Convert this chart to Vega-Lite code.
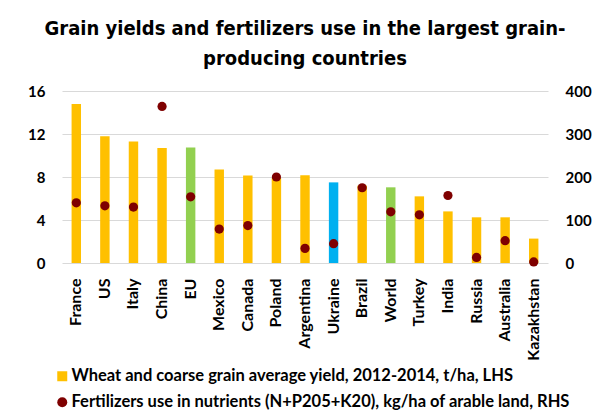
{
  "$schema": "https://vega.github.io/schema/vega-lite/v6.json",
  "width": 486,
  "height": 172,
  "autosize": {"type": "none"},
  "padding": {"left": 62, "top": 91, "right": 52, "bottom": 148},
  "background": "white",
  "title": {
    "text": ["Grain yields and fertilizers use in the largest grain-", "producing countries"],
    "font": "DejaVu Sans Condensed",
    "fontSize": 20,
    "fontWeight": "bold",
    "color": "#000000",
    "lineHeight": 30,
    "anchor": "middle",
    "offset": 15
  },
  "data": {
    "values": [
      {"country": "France", "yield": 14.8, "fert": 140, "barColor": "#FFC000", "series": "Fertilizers use in nutrients (N+P205+K20), kg/ha of arable land, RHS"},
      {"country": "US", "yield": 11.8, "fert": 133, "barColor": "#FFC000", "series": "Fertilizers use in nutrients (N+P205+K20), kg/ha of arable land, RHS"},
      {"country": "Italy", "yield": 11.3, "fert": 130, "barColor": "#FFC000", "series": "Fertilizers use in nutrients (N+P205+K20), kg/ha of arable land, RHS"},
      {"country": "China", "yield": 10.7, "fert": 364, "barColor": "#FFC000", "series": "Fertilizers use in nutrients (N+P205+K20), kg/ha of arable land, RHS"},
      {"country": "EU", "yield": 10.75, "fert": 154, "barColor": "#92D050", "series": "Fertilizers use in nutrients (N+P205+K20), kg/ha of arable land, RHS"},
      {"country": "Mexico", "yield": 8.7, "fert": 79, "barColor": "#FFC000", "series": "Fertilizers use in nutrients (N+P205+K20), kg/ha of arable land, RHS"},
      {"country": "Canada", "yield": 8.15, "fert": 87, "barColor": "#FFC000", "series": "Fertilizers use in nutrients (N+P205+K20), kg/ha of arable land, RHS"},
      {"country": "Poland", "yield": 7.9, "fert": 200, "barColor": "#FFC000", "series": "Fertilizers use in nutrients (N+P205+K20), kg/ha of arable land, RHS"},
      {"country": "Argentina", "yield": 8.17, "fert": 34, "barColor": "#FFC000", "series": "Fertilizers use in nutrients (N+P205+K20), kg/ha of arable land, RHS"},
      {"country": "Ukraine", "yield": 7.5, "fert": 45, "barColor": "#00B0F0", "series": "Fertilizers use in nutrients (N+P205+K20), kg/ha of arable land, RHS"},
      {"country": "Brazil", "yield": 7.2, "fert": 175, "barColor": "#FFC000", "series": "Fertilizers use in nutrients (N+P205+K20), kg/ha of arable land, RHS"},
      {"country": "World", "yield": 7.04, "fert": 119, "barColor": "#92D050", "series": "Fertilizers use in nutrients (N+P205+K20), kg/ha of arable land, RHS"},
      {"country": "Turkey", "yield": 6.2, "fert": 112, "barColor": "#FFC000", "series": "Fertilizers use in nutrients (N+P205+K20), kg/ha of arable land, RHS"},
      {"country": "India", "yield": 4.8, "fert": 157, "barColor": "#FFC000", "series": "Fertilizers use in nutrients (N+P205+K20), kg/ha of arable land, RHS"},
      {"country": "Russia", "yield": 4.25, "fert": 13, "barColor": "#FFC000", "series": "Fertilizers use in nutrients (N+P205+K20), kg/ha of arable land, RHS"},
      {"country": "Australia", "yield": 4.25, "fert": 52, "barColor": "#FFC000", "series": "Fertilizers use in nutrients (N+P205+K20), kg/ha of arable land, RHS"},
      {"country": "Kazakhstan", "yield": 2.27, "fert": 2.5, "barColor": "#FFC000", "series": "Fertilizers use in nutrients (N+P205+K20), kg/ha of arable land, RHS"}
    ]
  },
  "encoding": {
    "x": {
      "field": "country",
      "type": "nominal",
      "sort": null,
      "scale": {"paddingInner": 0.67, "paddingOuter": 0.335},
      "axis": {
        "title": null,
        "labelAngle": -90,
        "labelFont": "Lato",
        "labelFontSize": 16,
        "labelFontWeight": "bold",
        "labelColor": "#000000",
        "labelPadding": 15,
        "ticks": false,
        "domain": false,
        "grid": false,
        "labelLimit": 200
      }
    }
  },
  "layer": [
    {
      "mark": {"type": "bar"},
      "encoding": {
        "y": {
          "field": "yield",
          "type": "quantitative",
          "scale": {"domain": [0, 16], "nice": false},
          "axis": {
            "title": null,
            "orient": "left",
            "values": [0, 4, 8, 12, 16],
            "labelFont": "Lato",
            "labelFontSize": 15,
            "labelFontWeight": "bold",
            "labelColor": "#000000",
            "labelPadding": 17,
            "ticks": false,
            "domain": false,
            "grid": true,
            "gridColor": "#D9D9D9",
            "gridWidth": 1
          }
        },
        "fill": {"field": "barColor", "type": "nominal", "scale": null}
      }
    },
    {
      "mark": {"type": "point", "filled": true, "opacity": 1, "size": 85},
      "encoding": {
        "y": {
          "field": "fert",
          "type": "quantitative",
          "scale": {"domain": [0, 400], "nice": false},
          "axis": {
            "title": null,
            "orient": "right",
            "values": [0, 100, 200, 300, 400],
            "labelFont": "Lato",
            "labelFontSize": 15,
            "labelFontWeight": "bold",
            "labelColor": "#000000",
            "labelPadding": 17,
            "ticks": false,
            "domain": false,
            "grid": false
          }
        },
        "color": {
          "field": "series",
          "type": "nominal",
          "scale": {
            "domain": ["Wheat and coarse grain average yield, 2012-2014, t/ha, LHS", "Fertilizers use in nutrients (N+P205+K20), kg/ha of arable land, RHS"],
            "range": ["#FFC000", "#7F0000"]
          },
          "legend": {
            "title": null,
            "orient": "none",
            "legendX": -8,
            "legendY": 277,
            "direction": "vertical",
            "padding": 0,
            "rowPadding": 9,
            "labelFont": "Lato",
            "labelFontSize": 16.5,
            "labelFontWeight": "bold",
            "labelColor": "#000000",
            "labelOffset": 1,
            "labelLimit": 700,
            "symbolSize": 100,
            "symbolStrokeWidth": 0
          }
        },
        "shape": {
          "field": "series",
          "type": "nominal",
          "scale": {
            "domain": ["Wheat and coarse grain average yield, 2012-2014, t/ha, LHS", "Fertilizers use in nutrients (N+P205+K20), kg/ha of arable land, RHS"],
            "range": ["square", "circle"]
          },
          "legend": {
            "title": null,
            "orient": "none",
            "legendX": -8,
            "legendY": 277,
            "direction": "vertical",
            "padding": 0,
            "rowPadding": 9,
            "labelFont": "Lato",
            "labelFontSize": 16.5,
            "labelFontWeight": "bold",
            "labelColor": "#000000",
            "labelOffset": 1,
            "labelLimit": 700,
            "symbolSize": 100,
            "symbolStrokeWidth": 0
          }
        }
      }
    }
  ],
  "resolve": {"scale": {"y": "independent"}},
  "config": {
    "view": {"stroke": null}
  }
}
